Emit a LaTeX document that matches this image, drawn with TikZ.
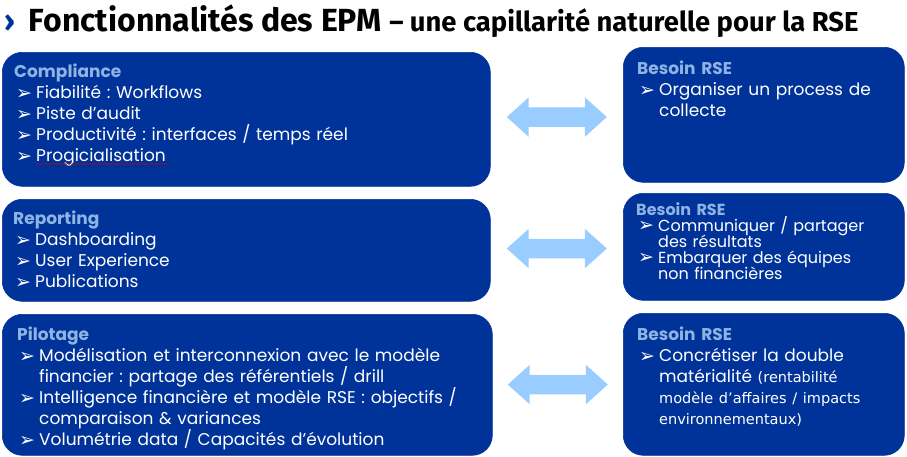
\documentclass[tikz,border=0pt]{standalone}
\usepackage{fontspec}
\setmainfont{Poppins}
\newfontfamily\symb{DejaVu Sans}
\newfontfamily\titre{Fira Sans}
\usetikzlibrary{positioning,calc,shapes.arrows,decorations.pathmorphing}
\definecolor{fondbleu}{HTML}{003399}
\definecolor{titrebleu}{HTML}{8DB4E2}
\definecolor{flechebleu}{HTML}{99CCFF}
\frenchspacing

\begin{document}
\begin{tikzpicture}[x=1pt,y=-1pt,
    bloc/.style={draw=fondbleu, line width=0.6pt, fill=fondbleu,
      rounded corners=20pt, anchor=north west, inner sep=0pt},
    contenu/.style={anchor=north west, inner sep=0pt, text=white,
      align=left, text width=480pt, font=\fontsize{17}{21}\selectfont},
    fleche/.style={double arrow, fill=flechebleu, draw=none,
      minimum height=100pt, inner sep=9.5pt,
      double arrow head extend=10pt, double arrow tip angle=84}]
  \newcommand{\puce}{\par\hangindent=22pt\hangafter=1%
    \hspace*{2pt}\makebox[20pt][l]{\raisebox{-0.5pt}{\symb\fontsize{19}{19}\selectfont ➢}}}
  \newcommand{\nl}{\break}
  \newcommand{\serre}{\lineskiplimit=-20pt\relax\lineskip=0pt\relax}
  \newcommand{\rubrique}[1]{{\bfseries\color{titrebleu}#1}}
  \useasboundingbox (0,0) rectangle (907,456);

  % titre
  \node[anchor=west, inner sep=0pt, font=\titre] (titre) at (4,21)
    {{\color{fondbleu}\fontsize{30}{30}\selectfont\bfseries ›}%
     \hspace{14pt}{\fontsize{32}{32}\selectfont\bfseries Fonctionnalités des EPM}%
     \hspace{8pt}{\fontsize{27.4}{32}\selectfont\bfseries – une capillarité naturelle pour la RSE}};

  % blocs EPM
  \node[bloc, minimum width=488pt, minimum height=134pt] (comp) at (2,52) {};
  \node[bloc, minimum width=488pt, minimum height=102pt] (repo) at (2,199) {};
  \node[bloc, minimum width=490pt, minimum height=141pt] (pilo) at (2,314) {};

  % blocs RSE
  \node[bloc, minimum width=281pt, minimum height=135pt] (rse1) at (623,47) {};
  \node[bloc, minimum width=281pt, minimum height=107pt] (rse2) at (623,193) {};
  \node[bloc, minimum width=281pt, minimum height=142pt] (rse3) at (623,313) {};

  % textes
  \node[contenu] (tcomp) at (14,64) {\rubrique{Compliance}
    \puce Fiabilité : Workflows
    \puce Piste d’audit
    \puce Productivité : interfaces / temps réel
    \puce Progicialisation\par};
  \draw[red!80!black, line width=0.4pt,
    decorate, decoration={snake, amplitude=0.6pt, segment length=2.5pt}]
    (37,164) -- (168,164);
  \node[contenu] (trepo) at (13,211) {\rubrique{Reporting}
    \puce Dashboarding
    \puce User Experience
    \puce Publications\par};
  \node[contenu] (tpilo) at (17,327) {\rubrique{Pilotage}
    \puce Modélisation et interconnexion avec le modèle\nl
      financier : partage des référentiels / drill
    \puce Intelligence financière et modèle RSE : objectifs /\nl
      comparaison \& variances
    \puce Volumétrie data / Capacités d’évolution\par};

  \node[contenu] (trse1) at (637,61) {\rubrique{Besoin RSE}
    \puce Organiser un process de\nl collecte\par};
  \node[contenu, font=\fontsize{16}{16}\selectfont]
    (trse2) at (636,202) {\serre\rubrique{Besoin RSE}
    \puce Communiquer / partager\nl des résultats
    \puce Embarquer des équipes\nl non financières\par};
  \node[contenu] (trse3) at (637,327) {\rubrique{Besoin RSE}
    \puce Concrétiser la double\nl
      matérialité {\symb\fontsize{14.5}{21}\selectfont(rentabilité\nl
      modèle d’affaires / impacts\nl environnementaux)}\par};

  % fleches
  \node[fleche] (f1) at ($(comp.east)!0.5!(rse1.west)$) {};
  \node[fleche] (f2) at ($(repo.east)!0.5!(rse2.west)$) {};
  \node[fleche] (f3) at ($(pilo.east)!0.5!(rse3.west)$) {};
\end{tikzpicture}
\end{document}
